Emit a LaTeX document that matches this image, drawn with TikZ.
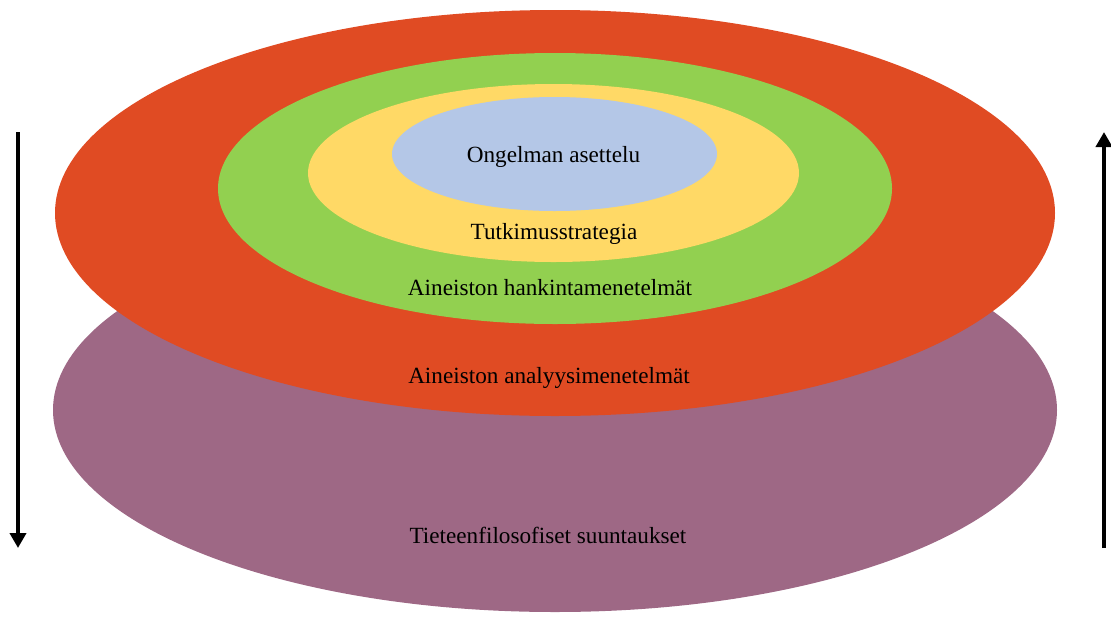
\documentclass[tikz,border=0pt]{standalone}
\usepackage{xcolor}
\usepackage{fontspec}
\setmainfont{Liberation Serif}
\usepackage{tikz}
\usetikzlibrary{shapes.geometric, arrows.meta}
\definecolor{layerred}{HTML}{E04B23}
\definecolor{layerpurple}{HTML}{9E6885}
\definecolor{layergreen}{HTML}{92D050}
\definecolor{layeryellow}{HTML}{FFD966}
\definecolor{layerblue}{HTML}{B4C7E7}

\begin{document}
\begin{tikzpicture}[
  layer/.style={ellipse, draw=none, inner sep=0pt},
  caption/.style={anchor=base, inner sep=0pt, font=\fontsize{13.2}{15}\selectfont, text=black},
  flow/.style={line width=2.2pt, -{Triangle[length=0.3cm, width=0.32cm]}},
]
\useasboundingbox (0,0) rectangle (22.22,-12.32);

\node[layer, fill=layerpurple, minimum width=20.08cm, minimum height=8.08cm] (philo) at (11.10,-8.20) {};
\node[layer, fill=layerred, minimum width=20.00cm, minimum height=8.12cm] (analysis) at (11.10,-4.26) {};
\node[layer, fill=layergreen, minimum width=13.48cm, minimum height=5.42cm] (collect) at (11.10,-3.77) {};
\node[layer, fill=layeryellow, minimum width=9.82cm, minimum height=3.56cm] (strategy) at (11.07,-3.46) {};
\node[layer, fill=layerblue, minimum width=6.50cm, minimum height=2.28cm] (problem) at (11.09,-3.08) {};

\node[caption] (problemtext) at (11.07,-3.24) {Ongelman asettelu};
\node[caption] (strategytext) at (11.08,-4.78) {Tutkimusstrategia};
\node[caption] (collecttext) at (11.00,-5.90) {Aineiston hankintamenetelmät};
\node[caption] (analysistext) at (10.98,-7.66) {Aineiston analyysimenetelmät};
\node[caption] (philotext) at (10.96,-10.86) {Tieteenfilosofiset suuntaukset};

\coordinate (downtop) at (0.36,-2.64);
\coordinate (downend) at (0.36,-10.96);
\coordinate (upbottom) at (22.08,-10.96);
\coordinate (uptop) at (22.08,-2.64);

\draw[flow] (downtop) -- (downend);
\draw[flow] (upbottom) -- (uptop);

\end{tikzpicture}
\end{document}
